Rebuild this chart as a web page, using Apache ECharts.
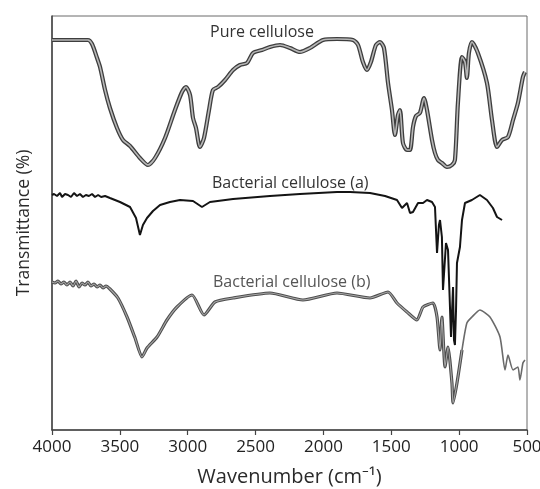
<!DOCTYPE html>
<html>
<head>
<meta charset="utf-8">
<script src="https://cdn.jsdelivr.net/npm/echarts@6/dist/echarts.min.js"></script>
<style>
  html, body { margin: 0; padding: 0; background: #fff; }
  #chart { width: 540px; height: 489px; }
</style>
</head>
<body>
<div id="chart"></div>
<script>
// wavenumber (cm-1) and transmittance (arbitrary, offset per curve)
const pureWn = [4000, 3735, 3705, 3668, 3646, 3609, 3573, 3521, 3477, 3425, 3352, 3293, 3241, 3167, 3094, 3042, 3013, 2983, 2961, 2939, 2910, 2880, 2843, 2814, 2777, 2725, 2666, 2615, 2563, 2519, 2453, 2394, 2320, 2246, 2173, 2099, 2003, 1900, 1782, 1745, 1709, 1679, 1650, 1613, 1583, 1554, 1524, 1495, 1473, 1451, 1436, 1414, 1384, 1362, 1340, 1318, 1289, 1259, 1237, 1200, 1178, 1156, 1127, 1090, 1053, 1031, 1009, 979, 957, 943, 928, 906, 862, 795, 758, 721, 684, 640, 603, 567, 530, 515];
const pureT = [390, 390, 386, 372, 363, 340, 322, 302, 290, 284, 272, 265, 272, 292, 320, 338, 343, 335, 312, 302, 283, 292, 320, 340, 343, 350, 360, 365, 367, 377, 380, 383, 385, 382, 378, 382, 390, 391, 390, 385, 368, 360, 368, 385, 388, 382, 347, 320, 295, 315, 320, 287, 280, 280, 303, 314, 317, 332, 320, 290, 277, 270, 267, 263, 265, 270, 327, 373, 368, 352, 377, 388, 377, 347, 310, 283, 290, 293, 310, 327, 353, 358];

const bcaWn = [4000, 3985, 3963, 3941, 3926, 3904, 3882, 3860, 3838, 3816, 3794, 3772, 3750, 3728, 3705, 3683, 3660, 3638, 3609, 3573, 3499, 3425, 3381, 3352, 3330, 3300, 3256, 3204, 3131, 3057, 2961, 2895, 2836, 2666, 2394, 2173, 1900, 1804, 1657, 1546, 1458, 1421, 1384, 1362, 1340, 1303, 1266, 1237, 1200, 1178, 1163, 1149, 1141, 1127, 1119, 1097, 1082, 1060, 1045, 1038, 1031, 1023, 1016, 994, 979, 957, 906, 847, 795, 751, 721, 684];
const bcaT = [235, 236, 234, 237, 233, 236, 235, 233, 237, 234, 236, 233, 235, 234, 236, 233, 235, 233, 234, 232, 228, 223, 212, 195, 205, 212, 219, 225, 228, 230, 229, 223, 228, 231, 234, 236, 238, 238, 237, 234, 230, 222, 227, 217, 218, 227, 227, 230, 228, 223, 177, 205, 210, 193, 140, 187, 180, 93, 143, 90, 85, 120, 167, 183, 210, 227, 230, 235, 230, 222, 213, 210];

const bcbWn = [4000, 3978, 3956, 3934, 3912, 3890, 3867, 3845, 3823, 3801, 3779, 3757, 3735, 3713, 3690, 3668, 3646, 3624, 3602, 3573, 3514, 3447, 3388, 3337, 3300, 3226, 3153, 3079, 2968, 2880, 2799, 2666, 2394, 2151, 1900, 1657, 1524, 1458, 1384, 1311, 1266, 1193, 1163, 1141, 1127, 1104, 1082, 1053, 1045, 1016, 979, 943, 906, 847, 773, 699, 662, 640, 603, 567, 552, 530, 515];
const bcbT = [148, 147, 149, 146, 148, 145, 148, 144, 149, 143, 147, 145, 148, 144, 146, 143, 145, 142, 144, 141, 132, 113, 92, 73, 82, 93, 110, 123, 135, 115, 128, 132, 137, 130, 137, 132, 138, 127, 118, 110, 123, 127, 113, 80, 113, 63, 83, 47, 27, 47, 80, 107, 113, 120, 113, 93, 60, 75, 60, 63, 50, 67, 70];

const xTicks = [4000, 3500, 3000, 2500, 2000, 1500, 1000, 500];
const labels = ['Pure cellulose', 'Bacterial cellulose (a)', 'Bacterial cellulose (b)'];

const zip = (xs, ys) => xs.map((x, i) => [x, ys[i]]);
const pure = zip(pureWn, pureT);
const bca = zip(bcaWn, bcaT);
const bcb = zip(bcbWn, bcbT);
// the (b) trace turns into a thin single line below ~980 cm-1
const bcbHigh = bcb.filter(p => p[0] >= 979);
const bcbLow = bcb.filter(p => p[0] <= 979);

const chart = echarts.init(document.getElementById('chart'));
const font = '"Open Sans", "Noto Sans", sans-serif';

const option = {
    animation: false,
    backgroundColor: '#fff',
    grid: {
        left: 52,
        right: 13,
        top: 16,
        bottom: 59,
        outerBoundsMode: 'none',
        containLabel: false,
        show: true,
        borderColor: '#6a6a6a',
        borderWidth: 1
    },
    xAxis: {
        type: 'value',
        inverse: true,
        min: 500,
        max: 4000,
        interval: 500,
        name: 'Wavenumber (cm⁻¹)',
        nameLocation: 'middle',
        nameGap: 37,
        nameTextStyle: { fontFamily: font, fontSize: 20, color: '#2a2a2a' },
        axisLine: { lineStyle: { color: '#444', width: 1.5 } },
        axisTick: { show: true, length: 5, lineStyle: { color: '#444', width: 1.2 } },
        axisLabel: {
            fontFamily: font, fontSize: 17, color: '#222', margin: 9,
            formatter: v => xTicks.includes(v) ? String(v) : ''
        },
        splitLine: { show: false }
    },
    yAxis: {
        type: 'value',
        min: 0,
        max: 414,
        name: 'Transmittance (%)',
        nameLocation: 'middle',
        nameGap: 19,
        nameTextStyle: { fontFamily: font, fontSize: 17.5, color: '#2a2a2a' },
        axisLine: { show: true, lineStyle: { color: '#444', width: 1.5 } },
        axisTick: { show: false },
        axisLabel: { show: false },
        splitLine: { show: false }
    },
    graphic: [
        { type: 'text', left: 210, top: 24, style: { text: labels[0], font: '16px ' + font, fill: '#333' } },
        { type: 'text', left: 212, top: 175, style: { text: labels[1], font: '16px ' + font, fill: '#333' } },
        { type: 'text', left: 213, top: 274, style: { text: labels[2], font: '16px ' + font, fill: '#555' } }
    ],
    series: [
        {
            name: labels[0], type: 'line', data: pure, showSymbol: false, smooth: 0.25,
            lineStyle: { color: '#3e3e3e', width: 4.2 }, z: 2
        },
        {
            name: labels[0] + ' core', type: 'line', data: pure, showSymbol: false, smooth: 0.25,
            lineStyle: { color: '#b8b8b8', width: 1.6 }, z: 3
        },
        {
            name: labels[1], type: 'line', data: bca, showSymbol: false,
            lineStyle: { color: '#141414', width: 2 }, z: 4
        },
        {
            name: labels[2], type: 'line', data: bcbHigh, showSymbol: false, smooth: 0.2,
            lineStyle: { color: '#4e4e4e', width: 3.2 }, z: 2
        },
        {
            name: labels[2] + ' core', type: 'line', data: bcbHigh, showSymbol: false, smooth: 0.2,
            lineStyle: { color: '#a8a8a8', width: 1.1 }, z: 3
        },
        {
            name: labels[2] + ' tail', type: 'line', data: bcbLow, showSymbol: false, smooth: 0.2,
            lineStyle: { color: '#6a6a6a', width: 1.6 }, z: 3
        }
    ]
};
chart.setOption(option);
</script>
</body>
</html>
